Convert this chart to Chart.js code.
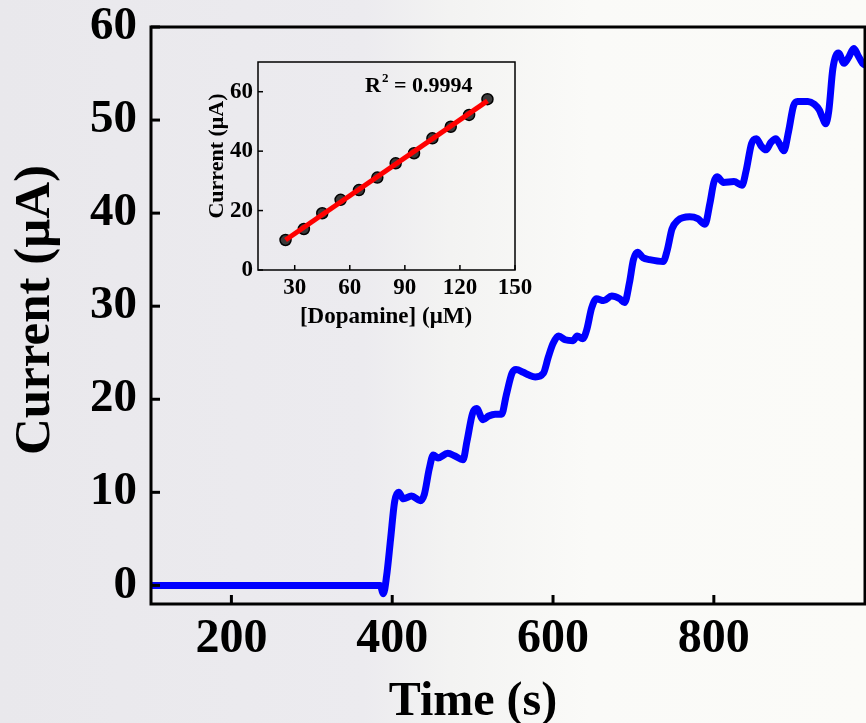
<!DOCTYPE html>
<html>
<head>
<meta charset="utf-8">
<script src="https://cdn.jsdelivr.net/npm/chart.js@4.4.1/dist/chart.umd.min.js"></script>
<style>
  html, body { margin: 0; padding: 0; }
  body {
    width: 866px; height: 723px; overflow: hidden; position: relative;
    background: linear-gradient(to right, #e9e8ec 0%, #ecebef 42%, #f3f3f2 52%, #fafaf8 68%, #fbfbf8 100%);
  }
  #mainChart { position: absolute; left: 0; top: 0; }
  #insetChart { position: absolute; left: 190px; top: 45px; }
</style>
</head>
<body>
<canvas id="mainChart" width="866" height="723"></canvas>
<canvas id="insetChart" width="365" height="290"></canvas>
<script>
// amperometric response, time in s / current in uA
const timeS = [100, 385, 389, 393, 398, 403, 408, 414, 424, 435, 440, 446, 451, 457, 469, 478, 488,
  493, 500, 505, 513, 520, 528, 536, 542, 549, 554, 563, 570, 578, 588, 594, 600, 607, 615, 625,
  630, 637, 642, 648, 654, 663, 673, 683, 689, 695, 700, 705, 712, 720, 737, 742, 748, 755, 770,
  780, 789, 795, 800, 804, 812, 825, 835, 840, 847, 853, 859, 865, 871, 877, 882, 887, 893, 899,
  904, 917, 925, 931, 935, 939, 943, 948, 955, 962, 968, 974, 979, 985, 992];
const currentUA = [0, 0, -0.9, 1.0, 5.0, 9.0, 10.0, 9.3, 9.6, 9.1, 9.8, 12.5, 14.0, 13.7, 14.2, 13.9, 13.5,
  15.5, 18.5, 19.0, 17.8, 18.2, 18.4, 18.4, 20.5, 22.8, 23.2, 22.9, 22.6, 22.4, 22.8, 24.5, 26.0, 26.8, 26.4, 26.3,
  26.8, 26.5, 27.5, 29.8, 30.8, 30.6, 31.1, 30.8, 30.4, 32.5, 35.0, 35.8, 35.2, 35.0, 34.8, 36.0, 38.3, 39.2, 39.6,
  39.4, 38.8, 41.0, 43.3, 43.9, 43.3, 43.4, 43.0, 44.5, 47.5, 48.0, 47.2, 46.8, 47.6, 48.0, 47.4, 46.7, 48.8, 51.5,
  52.0, 52.0, 51.7, 51.1, 50.3, 49.6, 51.0, 55.5, 57.2, 56.1, 56.8, 57.7, 57.0, 56.1, 55.8];
const timeTicks = [200, 400, 600, 800];
const currentTicks = [0, 10, 20, 30, 40, 50, 60];

// calibration (inset)
const dopamineUM = [25, 35, 45, 55, 65, 75, 85, 95, 105, 115, 125, 135];
const calibCurrent = [10.1, 13.8, 19.1, 23.6, 26.9, 31.1, 35.9, 39.3, 44.3, 48.2, 52.2, 57.5];
const fitX = [25, 135];
const fitY = [10.1, 56.9];
const dopamineTicks = [30, 60, 90, 120, 150];
const calibTicks = [0, 20, 40, 60];
const rSquared = '0.9994';

const SERIF = '"Liberation Serif", "Times New Roman", serif';

// frame + inward ticks, drawn from the chart's own scales
const framePlugin = {
  id: 'frame',
  afterDraw(chart, args, opts) {
    const { ctx, chartArea: a, scales } = chart;
    ctx.save();
    ctx.strokeStyle = '#000';
    ctx.lineWidth = opts.width;
    ctx.strokeRect(a.left, a.top, a.right - a.left, a.bottom - a.top);
    scales.x.ticks.forEach(t => {
      const px = scales.x.getPixelForValue(t.value);
      ctx.beginPath();
      ctx.moveTo(px, a.bottom);
      ctx.lineTo(px, a.bottom - opts.tick);
      ctx.stroke();
    });
    scales.y.ticks.forEach(t => {
      const py = scales.y.getPixelForValue(t.value);
      ctx.beginPath();
      ctx.moveTo(a.left, py);
      ctx.lineTo(a.left + opts.tick, py);
      ctx.stroke();
    });
    ctx.restore();
  }
};

// axis titles at fixed spots
const titlesPlugin = {
  id: 'titles',
  afterDraw(chart, args, opts) {
    const ctx = chart.ctx;
    ctx.save();
    ctx.fillStyle = '#000';
    ctx.font = 'bold ' + opts.size + 'px ' + SERIF;
    ctx.textAlign = 'center';
    ctx.textBaseline = 'alphabetic';
    ctx.fillText(opts.xText, opts.xPos[0], opts.xPos[1]);
    ctx.translate(opts.yPos[0], opts.yPos[1]);
    ctx.rotate(-Math.PI / 2);
    ctx.font = 'bold ' + opts.ySize + 'px ' + SERIF;
    ctx.textBaseline = 'middle';
    ctx.fillText(opts.yText, 0, 0);
    ctx.restore();
  }
};

// R^2 annotation with superscript
const rsqPlugin = {
  id: 'rsq',
  afterDraw(chart, args, opts) {
    if (!opts.show) return;
    const ctx = chart.ctx;
    ctx.save();
    ctx.fillStyle = '#000';
    ctx.textBaseline = 'alphabetic';
    ctx.textAlign = 'left';
    let x = opts.x;
    ctx.font = 'bold 22px ' + SERIF;
    ctx.fillText('R', x, opts.y);
    x += ctx.measureText('R').width + 1;
    ctx.font = 'bold 13px ' + SERIF;
    ctx.fillText('2', x, opts.y - 10);
    x += ctx.measureText('2').width;
    ctx.font = 'bold 22px ' + SERIF;
    ctx.fillText(' = ' + rSquared, x, opts.y);
    ctx.restore();
  }
};

function fixedTicks(list) {
  return scale => { scale.ticks = list.map(v => ({ value: v })); };
}

// fixed axis band size, and no extra room for overhanging labels
function fitTo(prop, size) {
  return s => {
    s[prop] = size;
    s.paddingTop = 0; s.paddingBottom = 0; s.paddingLeft = 0; s.paddingRight = 0;
  };
}

new Chart(document.getElementById('mainChart'), {
  type: 'line',
  data: {
    datasets: [{
      data: timeS.map((t, i) => ({ x: t, y: currentUA[i] })),
      borderColor: '#0000ff',
      borderWidth: 7,
      pointRadius: 0,
      cubicInterpolationMode: 'monotone',
      fill: false
    }]
  },
  options: {
    responsive: false,
    devicePixelRatio: 1,
    animation: false,
    layout: { padding: { top: 27, right: 1, left: 0, bottom: 0 } },
    plugins: {
      legend: { display: false },
      tooltip: { enabled: false },
      frame: { width: 3, tick: 9 },
      titles: { size: 48, ySize: 51, xText: 'Time (s)', yText: 'Current (μA)', xPos: [473, 715], yPos: [36, 310] },
      rsq: { show: false }
    },
    scales: {
      x: {
        type: 'linear', min: 100, max: 988,
        afterBuildTicks: fixedTicks(timeTicks),
        afterFit: fitTo('height', 119),
        grid: { display: false, drawTicks: false },
        border: { display: false },
        ticks: { color: '#000', padding: 7, maxRotation: 0, font: { family: SERIF, size: 48, weight: 'bold' } }
      },
      y: {
        type: 'linear', min: -2, max: 60,
        afterBuildTicks: fixedTicks(currentTicks),
        afterFit: fitTo('width', 151),
        grid: { display: false, drawTicks: false },
        border: { display: false },
        ticks: { color: '#000', padding: 14, font: { family: SERIF, size: 47, weight: 'bold' } }
      }
    }
  },
  plugins: [framePlugin, titlesPlugin, rsqPlugin]
});

new Chart(document.getElementById('insetChart'), {
  type: 'scatter',
  data: {
    datasets: [{
      type: 'line',
      data: fitX.map((x, i) => ({ x: x, y: fitY[i] })),
      borderColor: '#ff0000',
      borderWidth: 5,
      pointRadius: 0,
      order: 0
    }, {
      data: dopamineUM.map((x, i) => ({ x: x, y: calibCurrent[i] })),
      pointRadius: 5.5,
      pointBackgroundColor: '#3a3a3a',
      pointBorderColor: '#000',
      pointBorderWidth: 1.5,
      order: 1
    }]
  },
  options: {
    responsive: false,
    devicePixelRatio: 1,
    animation: false,
    layout: { padding: { top: 17, right: 40, left: 0, bottom: 0 } },
    plugins: {
      legend: { display: false },
      tooltip: { enabled: false },
      frame: { width: 1.5, tick: 5 },
      titles: { size: 23, ySize: 22, xText: '[Dopamine] (μM)', yText: 'Current (μA)', xPos: [196, 278], yPos: [27, 111] },
      rsq: { show: true, x: 175, y: 47 }
    },
    scales: {
      x: {
        type: 'linear', min: 10, max: 150,
        afterBuildTicks: fixedTicks(dopamineTicks),
        afterFit: fitTo('height', 65),
        grid: { display: false, drawTicks: false },
        border: { display: false },
        ticks: { color: '#000', padding: 4, maxRotation: 0, font: { family: SERIF, size: 23, weight: 'bold' } }
      },
      y: {
        type: 'linear', min: 0, max: 70,
        afterBuildTicks: fixedTicks(calibTicks),
        afterFit: fitTo('width', 68),
        grid: { display: false, drawTicks: false },
        border: { display: false },
        ticks: { color: '#000', padding: 5, font: { family: SERIF, size: 23, weight: 'bold' } }
      }
    }
  },
  plugins: [framePlugin, titlesPlugin, rsqPlugin]
});
</script>
</body>
</html>
